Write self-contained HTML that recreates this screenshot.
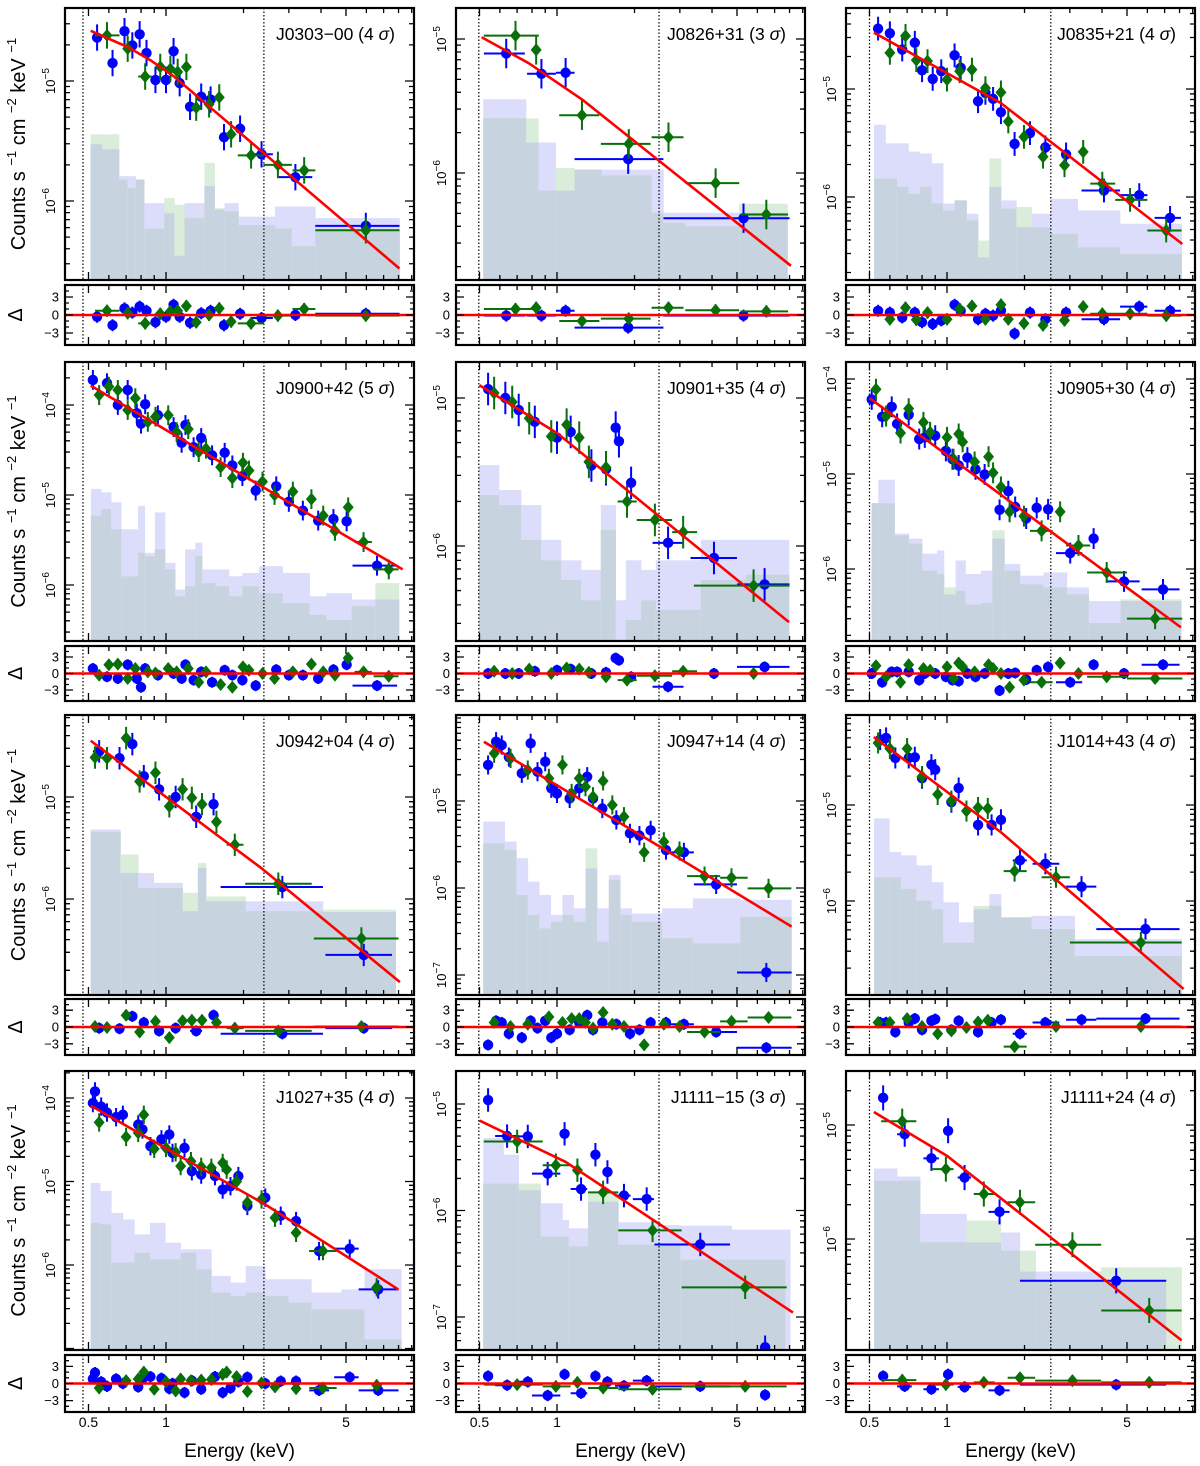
<!DOCTYPE html>
<html><head><meta charset="utf-8">
<style>
html,body{margin:0;padding:0;background:#fff;}
svg{display:block;font-family:"Liberation Sans",Arial,sans-serif;}
</style></head>
<body>
<svg id="fig" xmlns="http://www.w3.org/2000/svg" width="1200" height="1466" viewBox="0 0 1200 1466"></svg>
<script>
// ---------- data: panel 1 J0303-00 ----------
const p1Model=[[0.51,2.62e-5],[0.71,1.92e-5],[0.87,1.49e-5],[1.08,1.08e-5],[2.35,2.6e-6],[8.06,2.74e-7]];
const p1Blue=[[0.54,2.3e-5,-0.3],[0.62,1.41e-5,-1.7],[0.69,2.6e-5,1.1],[0.74,1.98e-5,0.4],[0.79,2.45e-5,1.4],[0.84,1.71e-5,0.7],[0.91,1.02e-5,-1.2],[1.0,1.02e-5,-0.3],[1.07,1.77e-5,1.7],[1.13,9.6e-6,-0.3],[1.24,6.1e-6,-1.3],[1.37,7.4e-6,0.3],[1.49,7.0e-6,0.7],[1.68,3.4e-6,-1.7],[1.94,4.0e-6,0.2],[2.35,2.45e-6,-0.5,2.15,2.6],[3.18,1.58e-6,0,2.7,3.7],[5.97,6.2e-7,0.2,3.8,8.07]];
const p1Green=[[0.59,2.4e-5,0.7,0.53,0.66],[0.71,1.86e-5,0.3],[0.83,1.09e-5,-1.4,0.78,0.88],[0.95,1.31e-5,0.2],[1.04,1.26e-5,0.6],[1.11,1.19e-5,0.7],[1.20,1.31e-5,1.5],[1.31,6.0e-6,-1.2],[1.47,6.4e-6,0],[1.61,7.3e-6,1.1],[1.79,3.6e-6,-1.1],[2.14,2.4e-6,-1.4,1.9,2.4],[2.72,2.0e-6,-0.1,2.39,3.08],[3.44,1.8e-6,1.0,3.1,3.8],[5.97,5.7e-7,-0.1,3.8,8.07]];
const p1BgEdges=[0.509,0.565,0.657,0.708,0.763,0.823,0.90,0.985,1.078,1.18,1.29,1.41,1.545,1.69,1.91,2.35,2.65,3.08,3.80,8.07];
const p1BgBlue=[2.97e-6,2.7e-6,1.61e-6,1.61e-6,1.51e-6,9.6e-7,9.6e-7,7.9e-7,3.5e-7,9.6e-7,9.6e-7,1.33e-6,8.5e-7,9.6e-7,7.4e-7,7.4e-7,9.0e-7,9.0e-7,7.2e-7];
const p1BgGreen=[3.6e-6,3.6e-6,1.51e-6,1.29e-6,1.51e-6,5.9e-7,5.9e-7,1.06e-6,9.3e-7,7.2e-7,7.2e-7,2.08e-6,8.7e-7,8.2e-7,6.3e-7,6.3e-7,5.9e-7,4.2e-7,5.6e-7];
// ---------- panel 2 J0826+31 ----------
const p2Model=[[0.51,1.03e-5],[0.777,6.6e-6],[1.26,3.5e-6],[8.1,2.03e-7]];
const p2Blue=[[0.635,7.8e-6,-0.1,0.52,0.75],[0.87,5.5e-6,-0.1,0.765,0.99],[1.08,5.6e-6,0.7,0.99,1.17],[1.89,1.27e-6,-2.1,1.17,2.59],[5.3,4.6e-7,-0.1,2.59,8.0]];
const p2Green=[[0.69,1.06e-5,1.0,0.52,0.85],[0.83,8.3e-6,1.2],[1.25,2.7e-6,-1.0,1.02,1.46],[1.9,1.65e-6,-0.6,1.48,2.31],[2.71,1.85e-6,1.2,2.33,3.1],[4.13,8.4e-7,0.8,3.15,5.1],[6.5,4.9e-7,0.6,5.17,7.9]];
const p2BgEdges=[0.517,0.758,0.847,0.988,1.17,1.49,2.33,2.59,3.15,5.1,7.85];
const p2BgBlue=[3.55e-6,1.69e-6,1.69e-6,7.4e-7,1.06e-6,1.06e-6,1.06e-6,5.05e-7,5.05e-7,5.05e-7];
const p2BgGreen=[2.56e-6,2.56e-6,7.4e-7,1.09e-6,1.06e-6,9.6e-7,5.05e-7,4.25e-7,4.0e-7,5.9e-7];
// ---------- panel 3 J0835+21 ----------
const p3Model=[[0.52,3.33e-5],[1.62,7.4e-6],[8.2,3.67e-7]];
const p3Blue=[[0.54,3.62e-5,0.7],[0.60,3.28e-5,0.4],[0.67,2.32e-5,-0.4],[0.75,2.68e-5,0.4],[0.80,1.49e-5,-1.2],[0.88,1.24e-5,-1.5],[0.95,1.46e-5,-0.9],[1.07,2.05e-5,1.7],[1.13,1.57e-5,0.7],[1.32,7.7e-6,-0.7],[1.41,9.2e-6,0.2],[1.51,8.1e-6,-0.1],[1.62,6.1e-6,0.7],[1.83,3.1e-6,-3.1],[2.10,3.9e-6,0.4],[2.41,2.88e-6,-0.7],[2.90,2.48e-6,0.4],[4.07,1.15e-6,-0.7,3.33,4.7],[5.58,1.04e-6,1.4,4.7,6.0],[7.35,6.4e-7,0.7,6.4,8.1]];
const p3Green=[[0.60,2.16e-5,-0.7],[0.69,3.1e-5,1.2],[0.76,1.85e-5,-0.8],[0.84,1.81e-5,0.4],[1.0,1.22e-5,-0.7],[1.12,1.46e-5,1.0],[1.25,1.51e-5,1.5],[1.41,1.02e-5,-0.7],[1.62,9.3e-6,1.7],[1.73,5.0e-6,-0.7],[1.99,3.6e-6,-1.4],[2.36,2.36e-6,-1.7],[2.86,1.97e-6,-0.9],[3.38,2.62e-6,1.4],[4.01,1.33e-6,0.2,3.6,4.5],[5.14,9.4e-7,0.2,4.5,6.0],[7.1,4.9e-7,-0.1,6.0,8.15]];
const p3BgEdges=[0.521,0.577,0.639,0.709,0.786,0.871,0.966,1.07,1.19,1.32,1.46,1.62,1.86,2.13,2.53,3.22,4.70,5.98,8.15];
const p3BgBlue=[4.66e-6,3.14e-6,3.14e-6,2.63e-6,2.53e-6,2.05e-6,8.7e-7,9.3e-7,7.0e-7,2.76e-7,1.24e-6,9.3e-7,5.25e-7,7.0e-7,9.6e-7,7.5e-7,5.65e-7,5.65e-7];
const p3BgGreen=[1.48e-6,1.48e-6,1.24e-6,1.07e-6,1.24e-6,8.7e-7,7.5e-7,9.3e-7,6.07e-7,3.95e-7,2.28e-6,7.8e-7,8.07e-7,5.25e-7,4.55e-7,3.42e-7,2.96e-7,2.96e-7];
// ---------- panel 4 J0900+42 ----------
const p4Model=[[0.51,1.64e-4],[8.3,1.49e-6]];
const p4Blue=[[0.52,1.9e-4,0.9],[0.59,1.75e-4,-0.6],[0.65,1.0e-4,-0.9],[0.71,1.47e-4,1.6],[0.77,8.1e-5,-0.9],[0.83,1.02e-4,0.9],[0.80,6.2e-5,-2.5],[0.93,7.7e-5,-0.3],[1.07,5.7e-5,0],[1.15,3.8e-5,-0.9],[1.19,6.0e-5,1.6],[1.28,3.4e-5,-1.2],[1.37,4.3e-5,0.3],[1.51,2.76e-5,-1.6],[1.69,2.95e-5,0.6],[1.81,2.13e-5,-0.3],[1.98,1.62e-5,-1.2],[2.23,1.12e-5,-2.2],[2.68,1.25e-5,0.7],[3.0,8.4e-6,-0.3],[3.4,6.7e-6,-0.3],[3.9,5.2e-6,-0.9],[4.47,5.4e-6,0.7],[5.03,5.1e-6,1.6],[6.6,1.64e-6,-2.2,5.3,7.9]];
const p4Green=[[0.55,1.29e-4,-0.3],[0.60,1.6e-4,1.6],[0.65,1.47e-4,1.7],[0.71,8.8e-5,-0.9],[0.76,1.19e-4,0.9],[0.85,6.5e-5,0.3],[0.91,7.4e-5,0.1],[1.02,7.7e-5,0.9],[1.10,5.0e-5,0.3],[1.22,5.4e-5,0.9],[1.34,3.0e-5,-1.6],[1.43,3.27e-5,0.3],[1.63,2.04e-5,-2.0],[1.81,1.54e-5,-2.5],[1.99,2.28e-5,1.2],[2.10,1.87e-5,0.6],[2.37,1.41e-5,0],[2.64,1.0e-5,-0.9],[3.11,1.09e-5,0.3],[3.67,9.0e-6,1.7],[4.08,5.9e-6,0.3],[4.53,4.0e-6,-0.3],[5.1,7.3e-6,2.8],[5.85,3.0e-6,0.3,5.4,6.3],[7.33,1.49e-6,-0.5,6.4,8.0]];
const p4BgEdges=[0.511,0.56,0.612,0.67,0.779,0.827,0.905,0.991,1.085,1.187,1.3,1.38,1.556,1.756,1.98,2.3,2.84,3.61,4.2,5.26,6.5,8.03];
const p4BgBlue=[1.17e-5,1.07e-5,8.3e-6,4.16e-6,7.6e-6,2.28e-6,6.4e-6,1.76e-6,8.9e-7,2.49e-6,2.95e-6,1.49e-6,1.49e-6,1.25e-6,1.36e-6,1.62e-6,1.36e-6,7.5e-7,8.1e-7,6.9e-7,6.9e-7];
const p4BgGreen=[5.9e-6,7.0e-6,4.16e-6,1.25e-6,2.28e-6,2.09e-6,2.49e-6,1.49e-6,7.5e-7,9.7e-7,2.09e-6,1.05e-6,9.7e-7,7.5e-7,9.7e-7,8.1e-7,6.3e-7,4.66e-7,4.09e-7,5.8e-7,1.05e-6];
// ---------- panel 5 J0901+35 ----------
const p5Model=[[0.50,1.22e-5],[1.0,5.8e-6],[7.96,3.06e-7]];
const p5Blue=[[0.54,1.15e-5,0],[0.63,1.0e-5,0],[0.71,8.3e-6,0],[0.82,6.9e-6,0.4],[1.0,5.4e-6,0.6],[1.13,5.9e-6,0.8],[1.36,3.5e-6,0],[1.55,3.3e-6,0.2],[1.69,6.3e-6,2.8],[1.74,5.1e-6,2.4],[1.94,2.67e-6,-0.6],[2.7,1.05e-6,-2.4,2.35,3.1],[4.07,8.3e-7,0,3.3,5.0],[6.4,5.5e-7,1.2,5.0,8.0]];
const p5Green=[[0.57,1.08e-5,0.4],[0.67,9.4e-6,0],[0.78,7.3e-6,0.8],[0.95,5.5e-6,0],[1.09,6.6e-6,1.0],[1.22,5.4e-6,0.8],[1.33,3.7e-6,0.2],[1.55,3.4e-6,-0.6],[1.87,2.0e-6,-1.2,1.72,2.04],[2.4,1.5e-6,-0.4,2.04,2.8],[3.09,1.24e-6,0.4,2.8,3.5],[5.8,5.4e-7,0,3.4,8.0]];
const p5BgEdges=[0.498,0.595,0.725,0.867,1.036,1.24,1.48,1.69,1.85,2.12,2.42,3.62,5.42,7.96];
const p5BgBlue=[3.52e-6,2.39e-6,1.89e-6,1.1e-6,8.0e-7,6.9e-7,1.89e-6,4.3e-7,8.0e-7,6.9e-7,8.0e-7,1.1e-6,1.1e-6];
const p5BgGreen=[2.21e-6,1.89e-6,1.1e-6,8.0e-7,5.9e-7,4.3e-7,1.28e-6,2.32e-7,3.16e-7,4.3e-7,3.7e-7,5.9e-7,6.4e-7];
// ---------- panel 6 J0905+30 ----------
const p6Model=[[0.50,6.3e-5],[8.1,2.43e-7]];
const p6Blue=[[0.51,6.1e-5,0],[0.56,4.0e-5,-1.6],[0.61,5.1e-5,0.3],[0.64,3.37e-5,0.3],[0.71,4.2e-5,0.3],[0.78,2.33e-5,-1.2],[0.82,2.43e-5,0],[0.90,2.53e-5,0],[0.99,1.75e-5,-0.6],[1.05,1.43e-5,-1.2],[1.11,1.23e-5,-1.4],[1.20,1.49e-5,0],[1.29,1.12e-5,-0.6],[1.40,9.9e-6,0],[1.6,4.2e-6,-3.1],[1.73,6.6e-6,0],[1.84,4.5e-6,0.1],[2.03,3.4e-6,-1.1],[2.23,4.4e-6,0.6],[2.47,4.25e-6,1.2],[3.01,1.47e-6,-1.6,2.65,3.35],[3.71,2.09e-6,1.6],[4.87,7.4e-7,0,4.2,5.6],[6.9,6.1e-7,1.6,5.7,8.0]];
const p6Green=[[0.53,7.8e-5,1.4],[0.58,4.07e-5,-0.6],[0.66,2.7e-5,-1.6],[0.71,4.87e-5,1.6],[0.81,3.5e-5,0.9],[0.86,2.75e-5,0.6],[1.0,2.43e-5,1.2],[1.06,1.43e-5,-0.9],[1.11,2.64e-5,1.9],[1.15,2.18e-5,1.2],[1.28,1.34e-5,0.3],[1.45,1.52e-5,1.6],[1.51,1.03e-5,0.9],[1.62,7.3e-6,0],[1.75,4.0e-6,-2.5],[1.99,3.6e-6,-1.2],[2.33,2.52e-6,-1.6,2.1,2.57],[2.75,4.0e-6,1.9],[3.24,1.77e-6,0,2.9,3.6],[4.17,9.2e-7,-0.6,3.5,5.0],[6.43,3.0e-7,-0.9,5.0,8.2]];
const p6BgEdges=[0.51,0.541,0.626,0.71,0.8,0.916,0.973,1.08,1.18,1.355,1.5,1.67,1.92,2.37,2.92,3.55,4.72,8.12];
const p6BgBlue=[4.93e-6,8.7e-6,2.36e-6,2.09e-6,1.45e-6,1.57e-6,5.4e-7,1.23e-6,8.85e-7,9.6e-7,2.09e-6,1.13e-6,8.5e-7,9.2e-7,6.4e-7,4.6e-7,4.6e-7];
const p6BgGreen=[4.93e-6,4.93e-6,2.26e-6,1.85e-6,9.6e-7,8.85e-7,6.4e-7,5.9e-7,4.24e-7,4.4e-7,2.56e-6,9.6e-7,6.9e-7,6.4e-7,5.4e-7,2.7e-7,4.8e-7];
// ---------- panel 7 J0942+04 ----------
const p7Model=[[0.51,3.56e-5],[2.35,2.0e-6],[8.1,1.53e-7]];
const p7Blue=[[0.55,2.8e-5,-0.2,0.52,0.58],[0.66,2.4e-5,-0.3],[0.74,3.3e-5,1.9],[0.82,1.6e-5,0.8],[0.94,1.19e-5,-0.7],[1.09,1.0e-5,-0.2],[1.31,6.4e-6,-0.7,1.24,1.38],[1.53,8.5e-6,2.1],[2.83,1.31e-6,-1.2,1.63,4.07],[5.86,2.83e-7,-0.2,4.16,7.55]];
const p7Green=[[0.53,2.44e-5,0.1,0.51,0.6],[0.59,2.4e-5,-0.1],[0.70,3.78e-5,2.1],[0.79,1.42e-5,-0.9],[0.91,1.73e-5,1.0],[1.03,8.1e-6,-1.9],[1.16,1.19e-5,1.1],[1.26,9.8e-6,1.2],[1.38,8.5e-6,1.2],[1.57,5.7e-6,0.8],[1.85,3.4e-6,-0.2,1.72,2.0],[2.73,1.41e-6,-0.7,2.03,3.68],[5.74,4.1e-7,0.1,3.75,8.0]];
const p7BgEdges=[0.51,0.665,0.78,0.896,1.16,1.33,1.43,1.64,2.04,4.07,7.8];
const p7BgBlue=[4.8e-6,1.8e-6,1.8e-6,1.44e-6,7.6e-7,2.02e-6,9.5e-7,9.5e-7,9.5e-7,7.45e-7];
const p7BgGreen=[4.56e-6,2.73e-6,1.28e-6,1.28e-6,1.15e-6,2.26e-6,1.06e-6,1.06e-6,7.6e-7,7.85e-7];
// ---------- panel 8 J0947+14 ----------
const p8Model=[[0.52,4.8e-5],[2.57,2.86e-6],[8.15,3.6e-7]];
const p8Blue=[[0.54,2.6e-5,-3.2],[0.58,4.8e-5,1.1],[0.61,4.4e-5,0.8],[0.65,3.2e-5,-1.2],[0.73,2.08e-5,-1.9],[0.79,4.6e-5,1.1],[0.84,2.17e-5,-0.2],[0.90,2.83e-5,1.1],[0.95,1.4e-5,-1.9],[1.0,1.22e-5,-1.2],[1.12,1.07e-5,-0.5],[1.22,1.4e-5,0.8],[1.31,1.9e-5,2.1],[1.38,1.07e-5,-0.5],[1.5,8.2e-6,0.8],[1.7,6.05e-6,0.5],[1.92,4.25e-6,-1.2],[2.09,4.0e-6,-0.5],[2.31,4.6e-6,0.8],[2.65,2.73e-6,0.8],[3.11,2.57e-6,0.5,2.65,3.4],[4.15,1.1e-6,-0.9,3.4,5.0],[6.5,1.07e-7,-3.7,5.0,8.15]];
const p8Green=[[0.57,3.53e-5,0.8],[0.66,3.09e-5,0.1],[0.77,2.27e-5,0.5],[0.93,1.82e-5,1.8],[1.05,2.6e-5,0.8],[1.14,1.22e-5,1.5],[1.22,1.82e-5,1.5],[1.29,1.46e-5,0.8],[1.38,1.12e-5,-0.2],[1.51,1.7e-5,2.6],[1.64,9.0e-6,0.5],[1.82,6.6e-6,0.1],[2.18,2.57e-6,-3.2],[2.6,3.4e-6,0.5],[2.99,2.66e-6,0.1],[3.74,1.37e-6,-0.9,3.2,4.3],[4.76,1.31e-6,1.0,4.3,5.5],[6.63,9.9e-7,1.7,5.5,8.13]];
const p8BgEdges=[0.517,0.626,0.695,0.77,0.853,0.946,1.05,1.16,1.29,1.43,1.59,1.76,1.95,2.56,3.37,5.15,8.13];
const p8BgBlue=[5.8e-6,3.41e-6,2.2e-6,1.18e-6,8.3e-7,4.9e-7,8.3e-7,5.84e-7,1.68e-6,5.84e-7,1.41e-6,5.84e-7,5.1e-7,5.84e-7,7.6e-7,7.3e-7];
const p8BgGreen=[3.26e-6,2.73e-6,8.3e-7,4.9e-7,3.43e-7,4.1e-7,4.9e-7,4.1e-7,2.86e-6,2.42e-7,1.24e-6,4.9e-7,4.1e-7,2.64e-7,2.31e-7,4.67e-7];
// ---------- panel 9 J1014+43 ----------
const p9Model=[[0.52,5.1e-5],[1.62,5.2e-6],[8.3,1.21e-7]];
const p9Blue=[[0.55,4.8e-5,0.8],[0.58,5.0e-5,0.8],[0.63,3.09e-5,-0.9],[0.71,3.09e-5,0.8],[0.75,3.14e-5,1.5],[0.80,1.9e-5,-0.5],[0.87,2.63e-5,1.1],[0.90,2.33e-5,1.4],[1.04,1.07e-5,-0.5],[1.11,1.5e-5,1.1],[1.32,6.2e-6,-0.9],[1.49,6.2e-6,0.8],[1.62,7.0e-6,1.3],[1.92,2.65e-6,-1.2,1.8,2.04],[2.41,2.44e-6,0.8,2.15,2.73],[3.33,1.41e-6,1.3,2.9,3.8],[5.9,5.1e-7,1.5,3.8,8.0]];
const p9Green=[[0.54,4.43e-5,0.8],[0.60,3.87e-5,0.8],[0.70,3.87e-5,1.5],[0.80,1.98e-5,0.1],[0.92,1.29e-5,-1.2],[1.04,1.1e-5,-0.7],[1.19,8.65e-6,-0.1],[1.32,9.4e-6,0.9],[1.44,9.2e-6,1.2],[1.83,2.05e-6,-3.5,1.66,2.04],[2.65,1.77e-6,0.1,2.33,3.0],[5.66,3.7e-7,0.1,3.0,8.15]];
const p9BgEdges=[0.521,0.597,0.662,0.76,0.871,0.966,1.11,1.27,1.46,1.62,2.13,3.13,8.15];
const p9BgBlue=[7.25e-6,3.24e-6,2.99e-6,2.35e-6,1.57e-6,9.7e-7,6.0e-7,8.2e-7,1.18e-6,6.75e-7,7.0e-7,4.0e-7];
const p9BgGreen=[1.77e-6,1.77e-6,1.34e-6,1.01e-6,8.2e-7,3.68e-7,3.68e-7,8.9e-7,8.9e-7,6.75e-7,5.1e-7,2.67e-7];
// ---------- panel 10 J1027+35 ----------
const p10Model=[[0.51,8.1e-5],[2.43,5.3e-6],[7.98,5.1e-7]];
const p10Blue=[[0.53,1.2e-4,1.9],[0.52,8.7e-5,0.8],[0.56,7.9e-5,0.3],[0.59,6.7e-5,-0.5],[0.64,5.9e-5,0.8],[0.68,6.3e-5,0],[0.78,4.8e-5,-0.6],[0.81,4.2e-5,0.8],[0.87,2.65e-5,1.2],[0.96,3.2e-5,0.9],[1.03,3.65e-5,-0.9],[1.06,2.2e-5,0],[1.18,2.52e-5,-1.6],[1.26,1.33e-5,0.5],[1.37,1.21e-5,-1.0],[1.55,1.16e-5,1.2],[1.66,8.0e-6,-1.6],[1.78,8.8e-6,-0.8],[1.91,1.16e-5,0.3],[2.07,5.1e-6,1.1],[2.43,6.4e-6,0],[2.79,3.9e-6,0.4],[3.2,3.36e-6,0.4],[3.93,1.47e-6,-1.2,3.6,4.3],[5.17,1.57e-6,1.1,4.5,5.6],[6.67,5.1e-7,-1.2,5.6,8.0]];
const p10Green=[[0.55,5.1e-5,-0.8],[0.70,3.42e-5,0.5],[0.78,3.82e-5,0.8],[0.82,6.3e-5,2.0],[0.90,2.46e-5,-1.0],[1.0,2.52e-5,0.3],[1.09,2.24e-5,-1.3],[1.14,1.53e-5,0.8],[1.25,1.75e-5,0.5],[1.37,1.5e-5,0.6],[1.5,1.46e-5,0.7],[1.66,1.67e-5,1.6],[1.72,1.39e-5,2.0],[1.88,1.0e-5,1.2],[2.07,5.6e-6,-1.4],[2.35,6.1e-6,0.1],[2.65,3.68e-6,-0.6],[3.2,2.43e-6,-0.9],[4.07,1.47e-6,-0.8,3.6,4.6],[6.58,5.4e-7,-0.3]];
const p10BgEdges=[0.51,0.555,0.613,0.68,0.754,0.866,0.993,1.14,1.31,1.5,1.78,2.04,2.43,2.99,3.67,4.8,5.9,7.5,8.2];
const p10BgBlue=[9.6e-6,7.7e-6,4.2e-6,3.51e-6,2.33e-6,3.2e-6,1.85e-6,1.54e-6,1.54e-6,7.4e-7,6.15e-7,9.7e-7,6.75e-7,6.75e-7,4.67e-7,5.1e-7,8.9e-7,8.9e-7];
const p10BgGreen=[3.2e-6,3.06e-6,1.07e-6,1.07e-6,1.4e-6,1.17e-6,1.17e-6,1.4e-6,8.9e-7,4.67e-7,4.26e-7,4.67e-7,4.26e-7,3.55e-7,2.95e-7,2.95e-7,1.29e-7,1.29e-7];
// ---------- panel 11 J1111-15 ----------
const p11Model=[[0.50,6.99e-6],[1.08,2.86e-6],[8.25,1.1e-7]];
const p11Blue=[[0.54,1.09e-5,1.3],[0.64,5.0e-6,-0.3,0.575,0.71],[0.77,4.96e-6,0.3,0.70,0.80],[0.92,2.22e-6,-2.1,0.80,1.03],[1.07,5.25e-6,1.6],[1.24,1.59e-6,-1.7,1.13,1.31],[1.41,3.34e-6,1.3],[1.57,2.3e-6,0.3],[1.82,1.38e-6,-0.4,1.68,1.93],[2.23,1.28e-6,0.5,1.97,2.38],[3.6,4.8e-7,-0.5,2.39,4.7],[6.43,5.2e-8,-2.0]];
const p11Green=[[0.70,4.45e-6,-0.2,0.52,0.88],[0.99,2.66e-6,-0.5,0.88,1.13],[1.2,2.39e-6,0.2],[1.51,1.48e-6,-0.8,1.32,1.73],[2.35,6.5e-7,-1.0,1.73,3.05],[5.38,1.9e-7,-0.5,3.05,7.8]];
const p11BgEdges=[0.517,0.62,0.71,0.863,1.05,1.11,1.32,1.73,1.99,2.53,3.01,4.77,7.7,8.05];
const p11BgBlue=[4.78e-6,3.34e-6,1.55e-6,1.17e-6,8.15e-7,6.8e-7,1.21e-6,7.76e-7,7.76e-7,7.3e-7,7.2e-7,6.6e-7,6.6e-7];
const p11BgGreen=[1.79e-6,1.79e-6,1.79e-6,5.7e-7,5.7e-7,4.6e-7,1.45e-6,4.77e-7,4.77e-7,4.77e-7,3.45e-7,3.45e-7,3.6e-8];
// ---------- panel 12 J1111+24 ----------
const p12Model=[[0.52,1.3e-5],[1.0,5.36e-6],[8.15,1.29e-7]];
const p12Blue=[[0.565,1.73e-5,1.3],[0.685,8.3e-6,-0.5,0.64,0.73],[0.87,5.1e-6,-1.0,0.81,0.93],[1.01,8.9e-6,1.6],[1.17,3.46e-6,-0.6,1.1,1.24],[1.6,1.73e-6,-1.2,1.45,1.75],[4.54,4.3e-7,-0.2,1.92,7.1]];
const p12Green=[[0.67,1.08e-5,0.6,0.555,0.76],[0.99,4.1e-6,-0.2,0.87,1.06],[1.39,2.48e-6,0.2,1.27,1.53],[1.92,2.1e-6,1.0,1.72,2.2],[3.07,8.9e-7,0.5,2.2,3.97],[6.1,2.36e-7,0.2,3.97,8.15]];
const p12BgEdges=[0.521,0.64,0.786,1.19,1.62,1.92,2.21,3.97,7.1,8.15];
const p12BgBlue=[4.15e-6,3.53e-6,1.66e-6,9.35e-7,1.14e-6,5.18e-7,5.18e-7,4.32e-7,8.3e-9];
const p12BgGreen=[3.24e-6,3.24e-6,9.35e-7,1.45e-6,7.9e-7,7.9e-7,4.32e-7,5.65e-7,5.65e-7];

const panelNames=['J0303\u221200','J0826+31','J0835+21','J0900+42','J0901+35','J0905+30','J0942+04','J0947+14','J1014+43','J1027+35','J1111\u221215','J1111+24'];
const panelSigma=[4,3,4,5,4,4,4,4,4,4,3,4];
const xTickLabels=['0.5','1','5'];
const xTickMajor=[0.5,1,5];
const xTickMinor=[0.6,0.7,0.8,0.9,2,3,4,6,7,8,9];
const resTickLabels=[3,0,-3];

// layout (pixels, not data)
const colL=[65,456,846], colR=[414,805,1195];
const mainY=[[8,280],[362,641],[715,995],[1071,1350]];
const resY=[[285,345],[646,701],[999,1055],[1355,1412]];
const yAxes=[[-5,81,120],[-5,39,134],[-5,89,108],[-4,405,90],[-5,398,148],[-4,379,95],[-5,797,102],[-5,801,87],[-5,805,96],[-4,1098,83.5],[-5,1104,106.5],[-5,1125,114]];
const dotE=[[0.476,2.4],[0.497,2.49],[0.50,2.53]];

const models=[p1Model,p2Model,p3Model,p4Model,p5Model,p6Model,p7Model,p8Model,p9Model,p10Model,p11Model,p12Model];
const blues=[p1Blue,p2Blue,p3Blue,p4Blue,p5Blue,p6Blue,p7Blue,p8Blue,p9Blue,p10Blue,p11Blue,p12Blue];
const greens=[p1Green,p2Green,p3Green,p4Green,p5Green,p6Green,p7Green,p8Green,p9Green,p10Green,p11Green,p12Green];
const bgEdges=[p1BgEdges,p2BgEdges,p3BgEdges,p4BgEdges,p5BgEdges,p6BgEdges,p7BgEdges,p8BgEdges,p9BgEdges,p10BgEdges,p11BgEdges,p12BgEdges];
const bgBlues=[p1BgBlue,p2BgBlue,p3BgBlue,p4BgBlue,p5BgBlue,p6BgBlue,p7BgBlue,p8BgBlue,p9BgBlue,p10BgBlue,p11BgBlue,p12BgBlue];
const bgGreens=[p1BgGreen,p2BgGreen,p3BgGreen,p4BgGreen,p5BgGreen,p6BgGreen,p7BgGreen,p8BgGreen,p9BgGreen,p10BgGreen,p11BgGreen,p12BgGreen];

const NS='http://www.w3.org/2000/svg';
const svg=document.getElementById('fig');
function mk(tag,parent){const e=document.createElementNS(NS,tag);parent.appendChild(e);return e;}
function set(e,o){for(const k in o)e.setAttribute(k,o[k]);return e;}
const BLUE='#0000ff', GREEN='#087008';

const defs=mk('defs',svg);

for(let i=0;i<12;i++){
  const c=i%3, r=Math.floor(i/3);
  const L=colL[c], R=colR[c], T=mainY[r][0], B=mainY[r][1], RT=resY[r][0], RB=resY[r][1];
  const [refExp,refPx,ppd]=yAxes[i];
  const X=E=>L+101+257.5*Math.log10(E);
  const Y=F=>refPx-ppd*(Math.log10(F)-refExp);
  const RY=v=>(RT+RB)/2-v*(RB-RT)/10;

  const g=mk('g',svg);
  
  

  const cp=mk('clipPath',defs); cp.setAttribute('id','cm'+i);
  set(mk('rect',cp),{x:L,y:T,width:R-L,height:B-T});
  const cr=mk('clipPath',defs); cr.setAttribute('id','cr'+i);
  set(mk('rect',cr),{x:L,y:RT,width:R-L,height:RB-RT});

  const bg=mk('g',g); bg.setAttribute('clip-path','url(#cm'+i+')');
  
  
  const ed=bgEdges[i], vb=bgBlues[i], vg=bgGreens[i];
  for(let k=0;k<vb.length;k++){
    const x0=X(ed[k]), x1=X(ed[k+1]);
    const yb=Math.max(T,Y(vb[k])), yg=Math.max(T,Y(vg[k]));
    const rb=mk('rect',bg); set(rb,{x:x0,y:yb,width:x1-x0+0.3,height:Math.max(0,B-yb),fill:'#dcdcfb'});
    
    
    const rg=mk('rect',bg); set(rg,{x:x0,y:yg,width:x1-x0+0.3,height:Math.max(0,B-yg),fill:'#daedda'});
    
    
    const yo=Math.max(yb,yg);
    const ro=mk('rect',bg); set(ro,{x:x0,y:yo,width:x1-x0+0.3,height:Math.max(0,B-yo),fill:'#c7d4df'});
    
    
  }

  for(const e of dotE[c]){
    for(const [a,b] of [[T,B],[RT,RB]]){
      const dl=mk('line',g); set(dl,{x1:X(e),x2:X(e),y1:a,y2:b,stroke:'#000','stroke-width':1.2,'stroke-dasharray':'1.5,2'});
      
      
    }
  }

  function drawPts(pts,color,shape,parent,res){
    for(const p of pts){
      const E=p[0], F=p[1], rv=p[2];
      const lo=p.length>3?p[3]:E*0.965, hi=p.length>4?p[4]:E*1.035;
      const y=res?RY(rv):Y(F);
      const y1=res?RY(rv+1):Y(F*Math.pow(10,0.11));
      const y2=res?RY(rv-1):Y(F/Math.pow(10,0.11));
      const eb=mk('path',parent);
      set(eb,{d:`M${X(lo)},${y}H${X(hi)}M${X(E)},${y1}V${y2}`,stroke:color,'stroke-width':2,fill:'none'});
      
      
    }
    for(const p of pts){
      const x=X(p[0]), y=res?RY(p[2]):Y(p[1]);
      let m;
      if(shape==='circle'){m=mk('circle',parent);set(m,{cx:x,cy:y,r:5.2,fill:color});}
      else{m=mk('path',parent);set(m,{d:`M${x},${y-6.5}L${x+5.5},${y}L${x},${y+6.5}L${x-5.5},${y}Z`,fill:color});}
      
      
    }
  }
  const pm=mk('g',g); pm.setAttribute('clip-path','url(#cm'+i+')');
  
  
  drawPts(blues[i],BLUE,'circle',pm,false);
  drawPts(greens[i],GREEN,'diamond',pm,false);

  const ml=mk('polyline',pm);
  set(ml,{points:models[i].map(q=>X(q[0])+','+Y(q[1])).join(' '),fill:'none',stroke:'#ff0000','stroke-width':2.6});
  
  

  const pr=mk('g',g); pr.setAttribute('clip-path','url(#cr'+i+')');
  
  
  drawPts(blues[i],BLUE,'circle',pr,true);
  drawPts(greens[i],GREEN,'diamond',pr,true);
  const zl=mk('line',pr); set(zl,{x1:L,x2:R,y1:RY(0),y2:RY(0),stroke:'#ff0000','stroke-width':2.6});
  
  

  let td='';
  for(const [a,b] of [[T,B],[RT,RB]]){
    for(const e of xTickMajor){const x=X(e);td+=`M${x},${b}v-8M${x},${a}v8`;}
    for(const e of xTickMinor){const x=X(e);if(x<R-1)td+=`M${x},${b}v-5M${x},${a}v5`;}
  }
  for(let e=-9;e<=-3;e++){
    for(let m=1;m<=9;m++){
      const y=Y(m*Math.pow(10,e));
      if(y>T+1&&y<B-1){const len=m===1?9:5;td+=`M${L},${y}h${len}M${R},${y}h${-len}`;}
    }
  }
  for(let v=-4;v<=4;v++){
    const y=RY(v);const len=(v%3===0)?8:4;
    td+=`M${L},${y}h${len}M${R},${y}h${-len}`;
  }
  const tk=mk('path',g); set(tk,{d:td,stroke:'#000','stroke-width':1.3,fill:'none'});
  
  

  const fm=mk('rect',g); set(fm,{x:L,y:T,width:R-L,height:B-T,fill:'none',stroke:'#000','stroke-width':2.2});
  
  
  const fr=mk('rect',g); set(fr,{x:L,y:RT,width:R-L,height:RB-RT,fill:'none',stroke:'#000','stroke-width':2.2});
  
  

  for(let e=-9;e<=-3;e++){
    const y=Y(Math.pow(10,e));
    if(y>T+6&&y<B-6){
      const t=mk('text',g);
      set(t,{transform:`translate(${L-10},${y}) rotate(-90)`,'text-anchor':'middle','font-size':13,fill:'#000'});
      
      
      t.textContent='10';
      const s=mk('tspan',t); set(s,{dy:-6,'font-size':10}); s.textContent='\u2212'+(-e);
    }
  }
  for(const v of resTickLabels){
    const t=mk('text',g);
    set(t,{x:L-6,y:RY(v)+4.5,'text-anchor':'end','font-size':13,fill:'#000'});
    
    
    t.textContent=v<0?'\u2212'+(-v):String(v);
  }
  const tt=mk('text',g);
  set(tt,{x:R-19,y:T+32,'text-anchor':'end','font-size':17.5,fill:'#000'});
  
  
  tt.textContent=panelNames[i]+' ('+panelSigma[i]+' ';
  const sg=mk('tspan',tt); sg.setAttribute('font-style','italic'); sg.textContent='\u03c3';
  const cl=mk('tspan',tt); cl.textContent=')';

  if(c===0){
    const yt=mk('text',g);
    set(yt,{transform:`translate(25,${(T+B)/2}) rotate(-90)`,'text-anchor':'middle','font-size':20,fill:'#000'});
    
    
    const parts=[['Counts s ',''],['\u22121',1],['  cm ',''],['\u22122',1],['  keV ',''],['\u22121',1]];
    for(const [txt,sup] of parts){
      const sp=mk('tspan',yt);
      if(sup){set(sp,{'font-size':13,dy:-9});}
      else if(sp.previousSibling){set(sp,{dy:9});}
      sp.textContent=txt;
    }
    const dt=mk('text',g);
    set(dt,{transform:`translate(22,${(RT+RB)/2}) rotate(-90)`,'text-anchor':'middle','font-size':20,fill:'#000'});
    
    
    dt.textContent='\u0394';
  }
  if(r===3){
    xTickMajor.forEach((e,k)=>{
      const t=mk('text',g);
      set(t,{x:X(e),y:1427,'text-anchor':'middle','font-size':14,fill:'#000'});
      
      
      t.textContent=xTickLabels[k];
    });
    const xt=mk('text',g);
    set(xt,{x:(L+R)/2,y:1457,'text-anchor':'middle','font-size':19,fill:'#000'});
    
    
    xt.textContent='Energy (keV)';
  }
}
</script>
</body></html>
